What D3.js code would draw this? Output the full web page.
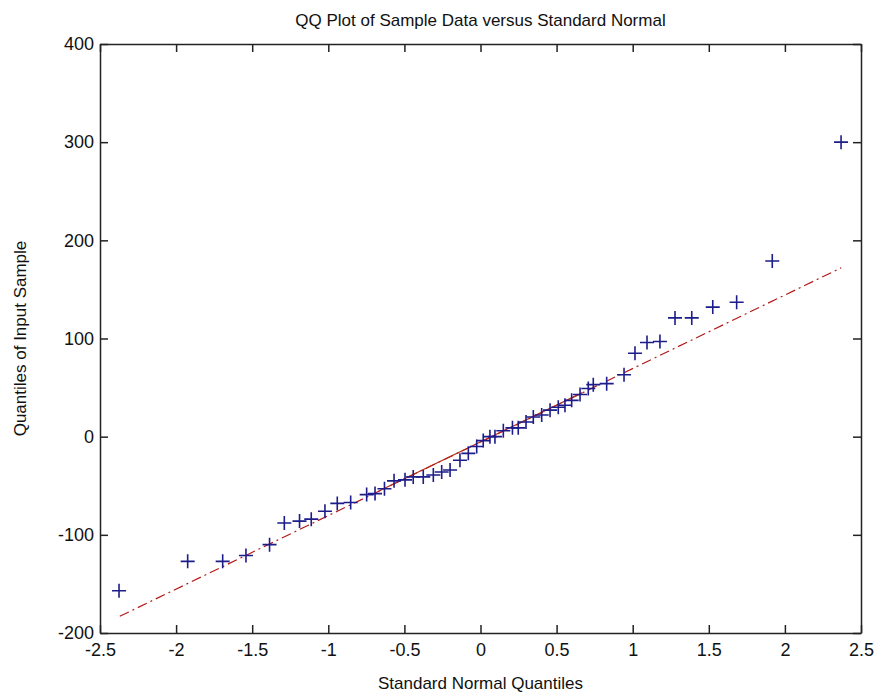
<!DOCTYPE html>
<html>
<head>
<meta charset="utf-8">
<script src="https://cdn.jsdelivr.net/npm/d3@7"></script>
<style>
  body { margin: 0; background: #fff; }
  text { font-family: "Liberation Sans", Arial, sans-serif; fill: #111; }
</style>
</head>
<body>
<div class="graphics"></div>
<script>
// cuantiles normales (eje x)
var normalQ = [-2.375, -1.924, -1.694, -1.541, -1.386, -1.289, -1.189, -1.112, -1.022, -0.941,
    -0.853, -0.748, -0.693, -0.631, -0.568, -0.496, -0.442, -0.376, -0.310, -0.255,
    -0.200, -0.135, -0.080, -0.025, 0.018, 0.062, 0.095, 0.150, 0.210, 0.248,
    0.299, 0.347, 0.402, 0.457, 0.511, 0.555, 0.599, 0.654, 0.708, 0.741,
    0.829, 0.943, 1.015, 1.094, 1.179, 1.278, 1.388, 1.526, 1.683, 1.917, 2.369]
// cuantiles de la muestra (eje y)
var sampleQ = [-157, -127, -127, -121, -110, -88, -86, -84, -76, -68,
    -67, -59, -58, -53, -45, -44, -41, -41, -39, -36,
    -34, -24, -17, -10, -4, 0, 0, 6, 9, 9,
    15, 20, 22, 27, 30, 32, 37, 43, 49, 53,
    54, 63, 85, 96, 97, 121, 121, 132, 137, 179, 300]
// linea de referencia (extremos) y tramo solido entre cuartiles
var refX = [-2.37, 2.37]
var refY = [-183, 172]
var quartX = [-0.67, 0.67]
var quartY = [-55.6, 44.9]

var xTicks = [-2.5, -2, -1.5, -1, -0.5, 0, 0.5, 1, 1.5, 2, 2.5]
var yTicks = [-200, -100, 0, 100, 200, 300, 400]

var W = 881, H = 696
var mLeft = 100, mRight = 861, mTop = 44, mBottom = 633

var x = d3.scaleLinear().domain([-2.5, 2.5]).range([mLeft, mRight])
var y = d3.scaleLinear().domain([-200, 400]).range([mBottom, mTop])

var svg = d3.select('.graphics').append('svg')
    .attr('width', W).attr('height', H)

// etiquetas con guion normal, como matlab
var fmt = function(d){ return String(d) }

// marco y ticks hacia dentro (como matlab)
var tl = 8
svg.append('g').attr('transform', 'translate(0,' + mBottom + ')')
    .call(d3.axisBottom(x).tickValues(xTicks).tickSizeInner(-tl).tickSizeOuter(0)
        .tickPadding(10).tickFormat(fmt))
svg.append('g').attr('transform', 'translate(0,' + mTop + ')')
    .call(d3.axisTop(x).tickValues(xTicks).tickSizeInner(-tl).tickSizeOuter(0).tickFormat(''))
svg.append('g').attr('transform', 'translate(' + mLeft + ',0)')
    .call(d3.axisLeft(y).tickValues(yTicks).tickSizeInner(-tl).tickSizeOuter(0)
        .tickPadding(6).tickFormat(fmt))
svg.append('g').attr('transform', 'translate(' + mRight + ',0)')
    .call(d3.axisRight(y).tickValues(yTicks).tickSizeInner(-tl).tickSizeOuter(0).tickFormat(''))

svg.selectAll('.domain').attr('stroke', '#222').attr('stroke-width', 1.5)
svg.selectAll('.tick line').attr('stroke', '#222').attr('stroke-width', 1.5)
svg.selectAll('.tick text').style('font-size', '18px')
    .style('font-family', '"Liberation Sans", Arial, sans-serif').attr('fill', '#111')

// linea de referencia discontinua
var line = d3.line().x(function(d){ return x(d[0]) }).y(function(d){ return y(d[1]) })
svg.append('path')
    .datum(d3.zip(refX, refY))
    .attr('d', line)
    .attr('fill', 'none').attr('stroke', '#b41818').attr('stroke-width', 1.2)
    .attr('stroke-dasharray', '10,4,2,4')
svg.append('path')
    .datum(d3.zip(quartX, quartY))
    .attr('d', line)
    .attr('fill', 'none').attr('stroke', '#b42818').attr('stroke-width', 1.2)

// marcadores +
var pts = d3.zip(normalQ, sampleQ)
var m = 7
svg.append('g').selectAll('path')
    .data(pts)
    .enter()
    .append('path')
    .attr('d', function(d){
        var px = x(d[0]), py = y(d[1])
        return 'M' + (px - m) + ',' + py + 'H' + (px + m) + 'M' + px + ',' + (py - m) + 'V' + (py + m)
    })
    .attr('stroke', '#1c1c8a').attr('stroke-width', 1.6).attr('fill', 'none')

// titulos
svg.append('text').attr('x', (mLeft + mRight) / 2).attr('y', 26)
    .attr('text-anchor', 'middle').style('font-size', '17px')
    .text('QQ Plot of Sample Data versus Standard Normal')
svg.append('text').attr('x', (mLeft + mRight) / 2).attr('y', 689)
    .attr('text-anchor', 'middle').style('font-size', '17px')
    .text('Standard Normal Quantiles')
svg.append('text').attr('transform', 'translate(26,' + (mTop + mBottom) / 2 + ') rotate(-90)')
    .attr('text-anchor', 'middle').style('font-size', '17px')
    .text('Quantiles of Input Sample')
</script>
</body>
</html>
